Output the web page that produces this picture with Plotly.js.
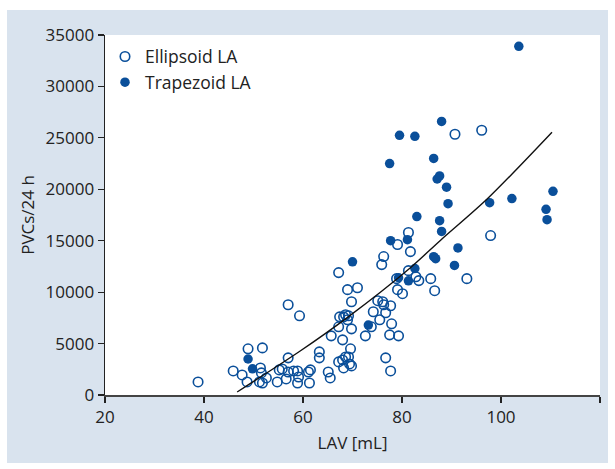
<!DOCTYPE html>
<html>
<head>
<meta charset="utf-8">
<script src="https://cdn.plot.ly/plotly-3.0.1.min.js"></script>
<style>
  html, body { margin:0; padding:0; background:#ffffff; }
  #chart { position:absolute; left:7px; top:10px; width:601px; height:453px; }
</style>
</head>
<body>
<div id="chart"></div>
<script>
// Ellipsoid LA (open circles)
const ellipsoidLAV = [38.8,45.9,47.7,48.7,48.9,51.8,51.4,51.6,51.2,51.8,52.6,54.8,55.2,55.8,56.6,57.0,57.0,57.0,59.3,58.1,58.9,59.1,58.9,61.5,61.1,61.3,63.3,63.3,65.1,65.5,65.7,67.2,68.0,67.2,67.4,68.2,68.6,69.0,69.2,67.2,69.8,69.0,71.0,69.8,68.0,68.2,68.6,69.2,69.4,69.8,69.6,72.6,73.8,74.2,75.5,75.1,76.1,76.3,76.7,77.7,77.9,77.5,79.3,76.7,77.7,75.9,76.3,79.1,78.9,80.1,81.3,79.1,81.7,81.3,82.8,83.4,85.8,86.6,93.1,90.7,96.1,97.9];
const ellipsoidPVC = [1270,2340,1950,1270,4490,4580,2630,2150,1270,1170,1660,1270,2440,2535,1560,8775,3610,2240,7700,2340,2340,1750,1170,2440,2240,1170,4190,3610,2240,1660,5750,3220,5360,11900,7600,7600,7800,7310,7700,6630,6430,10240,10430,9070,3410,2630,3700,3700,3020,2830,4490,5750,6630,8090,7310,9170,9070,8775,8000,8680,6920,5850,5750,3610,2340,12680,13460,10240,11310,9850,15800,14630,13940,12090,11500,11120,11310,10140,11310,25350,25740,15500];
// Trapezoid LA (filled circles)
const trapezoidLAV = [48.9,49.8,70.0,73.2,77.5,77.7,79.3,79.5,81.1,81.3,82.6,82.6,83.0,86.4,86.4,86.8,87.1,87.6,87.6,88.0,88.0,89.0,89.3,90.6,91.3,97.7,102.2,103.6,109.1,109.3,110.5];
const trapezoidPVC = [3500,2550,12950,6800,22500,15000,11400,25250,15100,11100,25150,12300,17350,23000,13450,13250,21000,21300,16950,26600,15900,20200,18600,12600,14300,18700,19100,33900,18050,17050,19800];
// Regression curve
const fitLAV = [46.7,59.5,69.0,81.7,87.8,97.3,110.3];
const fitPVC = [290,4300,7550,12380,15050,19100,25550];
// Axis ticks
const xTicks = [20,40,60,80,100,120];
const yTicks = [0,5000,10000,15000,20000,25000,30000,35000];

const blue = '#0a4f9a';
const font = "'Open Sans', 'Noto Sans', sans-serif";

const traces = [
  {
    x: ellipsoidLAV, y: ellipsoidPVC, type:'scatter', mode:'markers', name:'Ellipsoid LA',
    marker:{symbol:'circle-open', size:9.5, color:blue, line:{width:1.6, color:blue}},
    cliponaxis:false
  },
  {
    x: trapezoidLAV, y: trapezoidPVC, type:'scatter', mode:'markers', name:'Trapezoid LA',
    marker:{symbol:'circle', size:9.5, color:blue},
    cliponaxis:false
  },
  {
    x: fitLAV, y: fitPVC, type:'scatter', mode:'lines', showlegend:false,
    line:{color:'#111111', width:1.4, shape:'spline', smoothing:0.8},
    hoverinfo:'skip'
  }
];

const layout = {
  width:601, height:453,
  margin:{l:98, r:8, t:25, b:68},
  paper_bgcolor:'#d9e3ee',
  plot_bgcolor:'#ffffff',
  font:{family:font, size:17, color:'#222222'},
  showlegend:true,
  legend:{x:0.0, y:0.99, xanchor:'left', yanchor:'top', bgcolor:'rgba(0,0,0,0)',
          font:{size:17.5, color:'#222222'}, tracegroupgap:0, itemwidth:30},
  xaxis:{
    range:[20,120], tickvals:xTicks, ticktext:xTicks.map(String),
    showgrid:false, zeroline:false, showline:true, linecolor:'#444444', linewidth:1.6,
    ticks:'outside', ticklen:6, tickwidth:1.2, tickcolor:'#222222',
    tickfont:{size:17},
    title:{text:'LAV [mL]', font:{size:17}, standoff:10}
  },
  yaxis:{
    range:[0,35000], tickvals:yTicks, ticktext:yTicks.map(String),
    showgrid:false, zeroline:false, showline:true, linecolor:'#222222', linewidth:1.4,
    ticks:'outside', ticklen:6, tickwidth:1.2, tickcolor:'#222222',
    tickfont:{size:17},
    title:{text:'PVCs/24 h', font:{size:17}, standoff:6}
  }
};

Plotly.newPlot('chart', traces, layout, {displayModeBar:false, staticPlot:true});
</script>
</body>
</html>
